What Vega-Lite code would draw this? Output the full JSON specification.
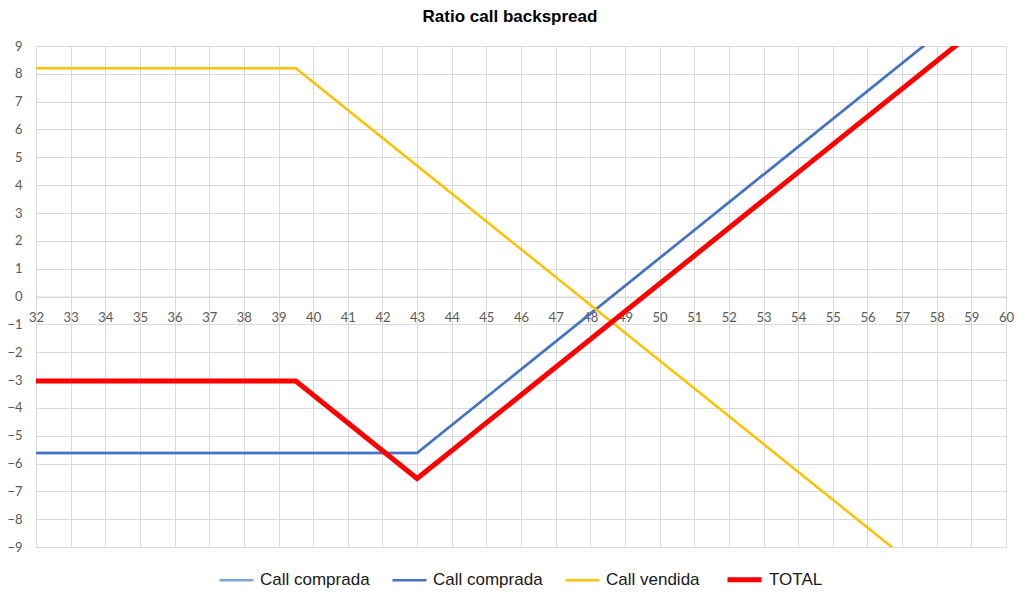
{
  "$schema": "https://vega.github.io/schema/vega-lite/v6.json",
  "width": 970,
  "height": 501,
  "autosize": "none",
  "padding": {"left": 36, "top": 46, "right": 12, "bottom": 45},
  "background": "white",
  "title": {"text": "Ratio call backspread", "font": "Liberation Sans", "fontSize": 17, "fontWeight": "bold", "color": "#000000", "anchor": "middle", "dx": -11, "offset": 14},
  "config": {"view": {"stroke": null}},
  "data": {"values": [
    {"x": 32, "y": -5.62, "s": "A"}, {"x": 39.5, "y": -5.62, "s": "A"}, {"x": 43, "y": -5.62, "s": "A"}, {"x": 60, "y": 11.38, "s": "A"},
    {"x": 32, "y": -5.62, "s": "B"}, {"x": 39.5, "y": -5.62, "s": "B"}, {"x": 43, "y": -5.62, "s": "B"}, {"x": 60, "y": 11.38, "s": "B"},
    {"x": 32, "y": 8.2, "s": "C"}, {"x": 39.5, "y": 8.2, "s": "C"}, {"x": 43, "y": 4.7, "s": "C"}, {"x": 60, "y": -12.3, "s": "C"},
    {"x": 32, "y": -3.04, "s": "D"}, {"x": 39.5, "y": -3.04, "s": "D"}, {"x": 43, "y": -6.54, "s": "D"}, {"x": 60, "y": 10.46, "s": "D"}
  ]},
  "mark": {"type": "line", "clip": true},
  "encoding": {
    "x": {"field": "x", "type": "quantitative",
      "scale": {"domain": [32, 60], "nice": false, "zero": false},
      "axis": {"values": [32,33,34,35,36,37,38,39,40,41,42,43,44,45,46,47,48,49,50,51,52,53,54,55,56,57,58,59,60],
        "offset": -250.5, "grid": true, "gridColor": "#d9d9d9", "gridWidth": 1, "domainColor": "#d9d9d9", "domainWidth": 1,
        "ticks": false, "labelPadding": 15, "labelFont": "Lato", "labelFontSize": 13, "labelColor": "#595959",
        "title": null, "labelFlush": false, "labelOverlap": false}},
    "y": {"field": "y", "type": "quantitative",
      "scale": {"domain": [-9, 9], "nice": false, "zero": false},
      "axis": {"values": [-9,-8,-7,-6,-5,-4,-3,-2,-1,0,1,2,3,4,5,6,7,8,9],
        "grid": true, "gridColor": "#d9d9d9", "gridWidth": 1, "domain": false, "ticks": false,
        "labelPadding": 14, "labelFont": "Lato", "labelFontSize": 13, "labelColor": "#595959",
        "title": null, "labelOverlap": false}},
    "color": {"field": "s", "type": "nominal",
      "scale": {"domain": ["A", "B", "C", "D"], "range": ["#7AA6DA", "#4472C4", "#FFC000", "#FF0000"]},
      "legend": {"title": null, "orient": "none", "legendX": 182, "legendY": 514, "direction": "horizontal",
        "symbolType": "stroke", "symbolSize": 1156, "labelFont": "Liberation Sans", "labelFontSize": 17, "labelColor": "#1a1a1a",
        "labelOffset": 5, "columnPadding": 17,
        "labelExpr": "datum.label == 'D' ? 'TOTAL' : (datum.label == 'C' ? 'Call vendida' : 'Call comprada')"}},
    "strokeWidth": {"field": "s", "type": "nominal",
      "scale": {"type": "ordinal", "domain": ["A", "B", "C", "D"], "range": [2.5, 2.5, 2.5, 5]},
      "legend": {"title": null, "orient": "none", "legendX": 182, "legendY": 514, "direction": "horizontal",
        "symbolType": "stroke", "symbolSize": 1156, "labelFont": "Liberation Sans", "labelFontSize": 17, "labelColor": "#1a1a1a",
        "labelOffset": 5, "columnPadding": 17,
        "labelExpr": "datum.label == 'D' ? 'TOTAL' : (datum.label == 'C' ? 'Call vendida' : 'Call comprada')"}}
  }
}
